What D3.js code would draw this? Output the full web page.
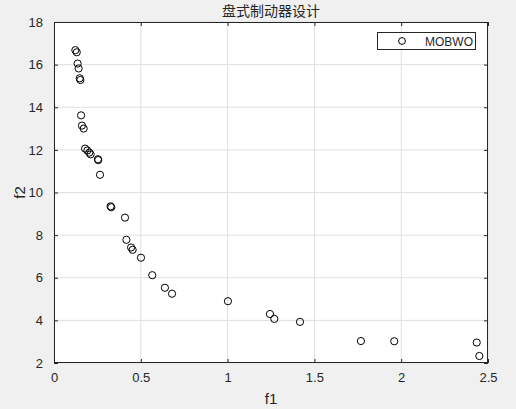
<!DOCTYPE html>
<head>
  <meta charset="utf-8">
  <title>盘式制动器设计</title>
  <script src="https://d3js.org/d3.v7.min.js"></script>
  <style>
  body { margin: 0; background: #f0f0f0; }
  text { font-family: "Liberation Sans", Arial, sans-serif; fill: #262626; }
  .grid line { stroke: #dfdfdf; stroke-width: 1; }
  .axis path, .axis line { stroke: #262626; }
  .axis text { font-size: 13px; }
  </style>
</head>
<body>
<script type="text/javascript">
  var WIDTH = 516, HEIGHT = 409;

  // data
  var f1 = [0.123, 0.131, 0.136, 0.142, 0.148, 0.152, 0.156, 0.161, 0.171, 0.179,
            0.192, 0.203, 0.211, 0.253, 0.255, 0.265, 0.326, 0.330, 0.409, 0.417,
            0.444, 0.453, 0.501, 0.566, 0.639, 0.680, 1.002, 1.244, 1.269, 1.417,
            1.768, 1.960, 2.435, 2.450];
  var f2 = [16.68, 16.58, 16.05, 15.82, 15.36, 15.28, 13.62, 13.14, 13.00, 12.06,
            11.97, 11.87, 11.79, 11.56, 11.52, 10.83, 9.35, 9.31, 8.82, 7.78,
            7.42, 7.31, 6.94, 6.12, 5.53, 5.25, 4.90, 4.30, 4.07, 3.93,
            3.03, 3.02, 2.96, 2.33];
  var xTicks = [0, 0.5, 1, 1.5, 2, 2.5];
  var yTicks = [2, 4, 6, 8, 10, 12, 14, 16, 18];
  var seriesName = "MOBWO";
  var title = "盘式制动器设计";

  var L = 54, R = 488, T = 22, B = 363;
  var x = d3.scaleLinear().domain([0, 2.5]).range([L, R]);
  var y = d3.scaleLinear().domain([2, 18]).range([B, T]);

  var svg = d3.select("body").append("svg")
              .attr("width", WIDTH)
              .attr("height", HEIGHT);

  svg.append("rect")
    .attr("x", L).attr("y", T)
    .attr("width", R - L).attr("height", B - T)
    .attr("fill", "#fff");

  // grid
  var grid = svg.append("g").attr("class", "grid");
  grid.selectAll(".gx").data(xTicks).enter().append("line")
    .attr("x1", function(d){ return x(d); }).attr("x2", function(d){ return x(d); })
    .attr("y1", T).attr("y2", B);
  grid.selectAll(".gy").data(yTicks).enter().append("line")
    .attr("y1", function(d){ return y(d); }).attr("y2", function(d){ return y(d); })
    .attr("x1", L).attr("x2", R);

  var tk = 4;
  var fmt = function(d){ return String(d); };
  svg.append("g").attr("class", "axis")
    .attr("transform", "translate(0," + B + ")")
    .call(d3.axisBottom(x).tickValues(xTicks).tickFormat(fmt).tickSizeInner(-tk).tickSizeOuter(0).tickPadding(10));
  svg.append("g").attr("class", "axis")
    .attr("transform", "translate(0," + T + ")")
    .call(d3.axisTop(x).tickValues(xTicks).tickFormat("").tickSizeInner(-tk).tickSizeOuter(0));
  svg.append("g").attr("class", "axis")
    .attr("transform", "translate(" + L + ",0)")
    .call(d3.axisLeft(y).tickValues(yTicks).tickFormat(fmt).tickSizeInner(-tk).tickSizeOuter(0).tickPadding(11));
  svg.append("g").attr("class", "axis")
    .attr("transform", "translate(" + R + ",0)")
    .call(d3.axisRight(y).tickValues(yTicks).tickFormat("").tickSizeInner(-tk).tickSizeOuter(0));
  svg.selectAll(".axis .domain").remove();

  svg.append("rect")
    .attr("x", L + 0.5).attr("y", T + 0.5)
    .attr("width", R - L - 1).attr("height", B - T - 1)
    .attr("fill", "none").attr("stroke", "#262626");

  // points
  var pts = f1.map(function(d, i){ return {x: d, y: f2[i]}; });
  svg.append("g").selectAll("circle").data(pts).enter().append("circle")
    .attr("cx", function(d){ return x(d.x); })
    .attr("cy", function(d){ return y(d.y); })
    .attr("r", 3.6)
    .attr("fill", "none")
    .attr("stroke", "#000")
    .attr("stroke-width", 1);

  // labels
  svg.append("text").attr("x", (L + R) / 2).attr("y", 16)
    .attr("text-anchor", "middle")
    .style("font-family", "'Noto Sans CJK SC', sans-serif")
    .style("font-size", "14px")
    .text(title);
  svg.append("text").attr("x", (L + R) / 2).attr("y", 404)
    .attr("text-anchor", "middle").style("font-size", "15px").text("f1");
  svg.append("text")
    .attr("transform", "translate(25," + ((T + B) / 2) + ") rotate(-90)")
    .attr("text-anchor", "middle").style("font-size", "15px").text("f2");

  // legend
  var lg = svg.append("g");
  lg.append("rect").attr("x", 377.5).attr("y", 32.5).attr("width", 98).attr("height", 17)
    .attr("fill", "#fff").attr("stroke", "#262626");
  lg.append("circle").attr("cx", 402).attr("cy", 41).attr("r", 3.4)
    .attr("fill", "none").attr("stroke", "#000");
  lg.append("text").attr("x", 425).attr("y", 45.5).style("font-size", "12px").text(seriesName);
</script>
</body>
